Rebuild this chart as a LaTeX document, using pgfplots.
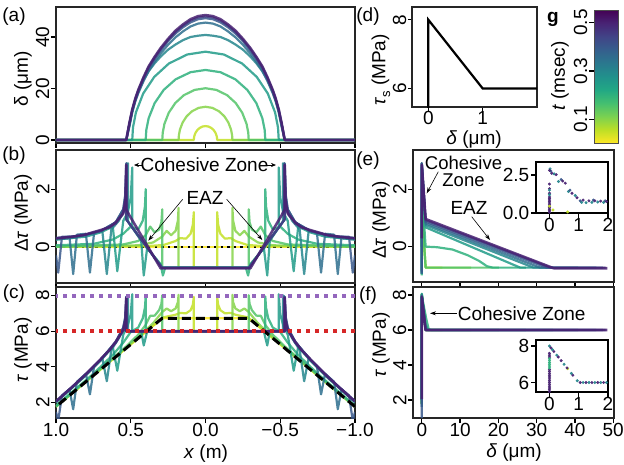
\documentclass[border=0pt]{standalone}
\usepackage{fontspec}
\setmainfont{Liberation Sans}
\usepackage{pgfplots}
\pgfplotsset{compat=1.18}
\usepackage{pgfplotstable}
\usetikzlibrary{arrows.meta}

\newcommand\fs{\fontsize{19}{21}\selectfont}

\definecolor{col0}{RGB}{253,231,37}
\definecolor{col1}{RGB}{195,224,38}
\definecolor{col2}{RGB}{134,212,73}
\definecolor{col3}{RGB}{83,196,104}
\definecolor{col4}{RGB}{46,176,125}
\definecolor{col5}{RGB}{33,155,136}
\definecolor{col6}{RGB}{37,134,141}
\definecolor{col7}{RGB}{46,111,142}
\definecolor{col8}{RGB}{56,88,139}
\definecolor{col9}{RGB}{66,62,132}
\definecolor{col10}{RGB}{72,33,114}
\definecolor{tabpurple}{RGB}{148,103,189}
\definecolor{tabred}{RGB}{214,39,40}

\pgfdeclareverticalshading{vir}{100bp}{rgb(0bp)=(0.992,0.906,0.145); rgb(25bp)=(0.992,0.906,0.145);
 rgb(30bp)=(0.741,0.875,0.149); rgb(35bp)=(0.478,0.820,0.318); rgb(40bp)=(0.267,0.749,0.439);
 rgb(45bp)=(0.133,0.659,0.518); rgb(50bp)=(0.129,0.569,0.549); rgb(55bp)=(0.165,0.471,0.557);
 rgb(60bp)=(0.208,0.373,0.553); rgb(65bp)=(0.255,0.267,0.529); rgb(70bp)=(0.282,0.141,0.459);
 rgb(75bp)=(0.267,0.004,0.329); rgb(100bp)=(0.267,0.004,0.329)}

\pgfplotsset{
  panel/.style={scale only axis, anchor=north west,
    axis line style={line width=1.3pt, black!85},
    tick align=outside, tick pos=left, major tick length=5pt,
    tick style={line width=1.2pt, black},
    tick label style={font=\fs},
    xticklabel style={inner sep=0.5pt}},
  rot/.style={yticklabel style={rotate=90, anchor=south, inner sep=1.5pt}},
  lcol/.style={panel, rot, xmin=-1, xmax=1, x dir=reverse, xtick={-1,-0.5,0,0.5,1}, width=299pt},
  cv/.style={line width=2.2pt, opacity=0.85, line join=round},
  inset/.style={panel, width=72pt, xmin=-0.46, xmax=2, xtick={0,1,2}, xticklabels={0,1,2},
    yticklabel style={anchor=east, inner sep=1.5pt},
    axis line style={line width=1.8pt, black}, axis background/.style={fill=white}},
  dots/.style={only marks, mark=*, mark size=1.3pt, opacity=0.9},
}

% slip profiles, late times (bell shaped), panel (a)
\pgfplotstableread{
x a6 a7 a8 a9 a10
-1 0 0 0 0 0
-0.53 0 0 0 0 0
-0.51 4.9 5.5 6.1 6.2 6.3
-0.49 10.6 11.1 11.5 11.7 11.8
-0.47 15.1 15.0 15.6 15.8 16.0
-0.45 18.4 18.2 18.9 19.2 19.4
-0.415 23.3 22.8 23.7 24.0 24.3
-0.38 26.7 26.9 27.9 28.3 28.6
-0.34 29.8 30.4 31.5 32.0 32.3
-0.3 32.4 33.6 34.8 35.3 35.7
-0.25 35.1 37.0 38.4 38.9 39.3
-0.2 37.1 39.9 41.4 42.0 42.5
-0.15 38.8 42.2 43.8 44.4 44.9
-0.1 40.0 44.1 45.7 46.4 46.9
-0.05 40.5 45.2 46.9 47.6 48.1
0 40.8 45.6 47.3 48.0 48.5
0.05 40.5 45.2 46.9 47.6 48.1
0.1 40.0 44.1 45.7 46.4 46.9
0.15 38.8 42.2 43.8 44.4 44.9
0.2 37.1 39.9 41.4 42.0 42.5
0.25 35.1 37.0 38.4 38.9 39.3
0.3 32.4 33.6 34.8 35.3 35.7
0.34 29.8 30.4 31.5 32.0 32.3
0.38 26.7 26.9 27.9 28.3 28.6
0.415 23.3 22.8 23.7 24.0 24.3
0.45 18.4 18.2 18.9 19.2 19.4
0.47 15.1 15.0 15.6 15.8 16.0
0.49 10.6 11.1 11.5 11.7 11.8
0.51 4.9 5.5 6.1 6.2 6.3
0.53 0 0 0 0 0
1 0 0 0 0 0
}\dtP

% stress change (db) and stress (tc) along the fault, panels (b) and (c)
\pgfplotstableread{
x db tc
-1 0 1.76
-0.29 0 6.73
0.29 0 6.73
1 0 1.76
}\dtZ
\pgfplotstableread{
x db tc
-1 0 1.76
-0.4 0.02 5.98
-0.28 0.06 6.79
-0.2 0.2 6.93
-0.17 0.3 7.03
-0.13 0.28 7.01
-0.1 0.45 7.18
-0.085 0.75 7.48
-0.078 1.2 7.93
-0.078 -0.73 6
0.078 -0.73 6
0.078 1.2 7.93
0.085 0.75 7.48
0.1 0.45 7.18
0.13 0.28 7.01
0.17 0.3 7.03
0.2 0.2 6.93
0.28 0.06 6.79
0.4 0.02 5.98
1 0 1.76
}\dtA
\pgfplotstableread{
x db tc
-1 0 1.76
-0.45 0.05 5.66
-0.35 0.15 6.46
-0.29 0.35 7.08
-0.26 0.55 7.28
-0.23 0.4 7.13
-0.2 0.55 7.28
-0.185 0.9 7.63
-0.18 1.35 8.05
-0.18 -0.73 6
0.18 -0.73 6
0.18 1.35 8.05
0.185 0.9 7.63
0.2 0.55 7.28
0.23 0.4 7.13
0.26 0.55 7.28
0.29 0.35 7.08
0.35 0.15 6.46
0.45 0.05 5.66
1 0 1.76
}\dtB
\pgfplotstableread{
x db tc
-1 0 1.76
-0.55 0.08 4.99
-0.45 0.2 5.81
-0.4 0.4 6.36
-0.37 0.7 6.87
-0.34 0.5 6.88
-0.31 0.6 7.19
-0.295 0.85 7.54
-0.289 1.3 8.03
-0.289 -0.73 6
0.289 -0.73 6
0.289 1.3 8.03
0.295 0.85 7.54
0.31 0.6 7.19
0.34 0.5 6.88
0.37 0.7 6.87
0.4 0.4 6.36
0.45 0.2 5.81
0.55 0.08 4.99
1 0 1.76
}\dtC
\pgfplotstableread{
x db tc
-1 0.05 1.81
-0.75 0.1 3.61
-0.62 0.25 4.67
-0.55 0.45 5.36
-0.5 0.7 5.96
-0.45 0.6 6.21
-0.42 0.9 6.72
-0.405 1.4 7.33
-0.4 2.0 7.96
-0.4 0 5.96
-0.3 -0.6 6
-0.285 -1.0 6
-0.27 -0.73 6
0.27 -0.73 6
0.285 -1.0 6
0.3 -0.6 6
0.4 0 5.96
0.4 2.0 7.96
0.405 1.4 7.33
0.42 0.9 6.72
0.45 0.6 6.21
0.5 0.7 5.96
0.55 0.45 5.36
0.62 0.25 4.67
0.75 0.1 3.61
1 0.05 1.81
}\dtD
\pgfplotstableread{
x db tc
-1 0.25 2.01
-0.8 0.35 3.51
-0.7 0.5 4.36
-0.62 0.7 5.12
-0.59 -0.85 3.78
-0.55 0.9 5.81
-0.52 1.2 6.32
-0.5 1.7 6.96
-0.49 2.75 8.08
-0.49 0.67 6
-0.43 0.2 6
-0.413 -1.0 5.2
-0.39 -0.03 6
-0.29 -0.73 6
0.29 -0.73 6
0.39 -0.03 6
0.413 -1.0 5.2
0.43 0.2 6
0.49 0.67 6
0.49 2.75 8.08
0.5 1.7 6.96
0.52 1.2 6.32
0.55 0.9 5.81
0.59 -0.85 3.78
0.62 0.7 5.12
0.7 0.5 4.36
0.8 0.35 3.51
1 0.25 2.01
}\dtE
\pgfplotstableread{
x db tc
-1 0.25 2.01
-0.9 0.3 2.76
-0.8 0.4 3.56
-0.69 0.55 4.48
-0.66 -0.95 3.19
-0.63 0.6 4.95
-0.58 0.9 5.6
-0.54 1.3 6.28
-0.525 1.8 6.885
-0.518 2.9 8.03
-0.518 0.87 6
-0.29 -0.73 6
0.29 -0.73 6
0.518 0.87 6
0.518 2.9 8.03
0.525 1.8 6.885
0.54 1.3 6.28
0.58 0.9 5.6
0.63 0.6 4.95
0.66 -0.95 3.19
0.69 0.55 4.48
0.8 0.4 3.56
0.9 0.3 2.76
1 0.25 2.01
}\dtF
\pgfplotstableread{
x db tc
-1 0.3 2.06
-0.91 0.35 2.74
-0.885 -0.95 1.615
-0.86 0.42 3.16
-0.8 0.45 3.61
-0.773 -0.9 2.45
-0.745 0.5 4.045
-0.7 0.55 4.41
-0.6 0.85 5.41
-0.55 1.3 6.21
-0.535 1.8 6.815
-0.527 2.9 7.97
-0.527 0.93 6
-0.29 -0.73 6
0.29 -0.73 6
0.527 0.93 6
0.527 2.9 7.97
0.535 1.8 6.815
0.55 1.3 6.21
0.6 0.85 5.41
0.7 0.55 4.41
0.745 0.5 4.045
0.773 -0.9 2.45
0.8 0.45 3.61
0.86 0.42 3.16
0.885 -0.95 1.615
0.91 0.35 2.74
1 0.3 2.06
}\dtG
\pgfplotstableread{
x db tc
-1 -0.3 1.46
-0.985 -0.9 0.965
-0.96 0.35 2.39
-0.9 0.35 2.81
-0.8 0.42 3.58
-0.7 0.55 4.41
-0.6 0.85 5.41
-0.55 1.3 6.21
-0.537 1.8 6.8
-0.53 2.9 7.95
-0.53 0.95 6
-0.29 -0.73 6
0.29 -0.73 6
0.53 0.95 6
0.53 2.9 7.95
0.537 1.8 6.8
0.55 1.3 6.21
0.6 0.85 5.41
0.7 0.55 4.41
0.8 0.42 3.58
0.9 0.35 2.81
0.96 0.35 2.39
0.985 -0.9 0.965
1 -0.3 1.46
}\dtH
\pgfplotstableread{
x db tc
-1 0.3 2.06
-0.9 0.35 2.81
-0.8 0.42 3.58
-0.7 0.55 4.41
-0.6 0.8 5.36
-0.55 1.2 6.11
-0.537 1.6 6.6
-0.53 2.85 7.9
-0.53 0.95 6
-0.29 -0.73 6
0.29 -0.73 6
0.53 0.95 6
0.53 2.85 7.9
0.537 1.6 6.6
0.55 1.2 6.11
0.6 0.8 5.36
0.7 0.55 4.41
0.8 0.42 3.58
0.9 0.35 2.81
1 0.3 2.06
}\dtI
\pgfplotstableread{
x db tc
-1 0.29 2.05
-0.9 0.34 2.80
-0.82 0.4 3.42
-0.7 0.58 4.44
-0.64 0.68 4.96
-0.6 0.85 5.41
-0.55 1.15 6.06
-0.535 1.6 6.62
-0.53 2.84 7.89
-0.53 1.3 6
-0.51 1.1 6
-0.3 -0.75 6
0.3 -0.75 6
0.51 1.1 6
0.53 1.3 6
0.53 2.84 7.89
0.535 1.6 6.62
0.55 1.15 6.06
0.6 0.85 5.41
0.64 0.68 4.96
0.7 0.58 4.44
0.82 0.4 3.42
0.9 0.34 2.80
1 0.29 2.05
}\dtJ

\begin{document}
\begin{tikzpicture}[font=\fs]
\useasboundingbox (0,0) rectangle (624pt,-464pt);

% ---------- (a) slip
\begin{axis}[lcol, at={(56pt,-7pt)}, height=136pt, ymin=-1.17, ymax=51.65,
  ytick={0,20,40}, yticklabels={0,20,40}, xticklabels={}]
\addplot[cv, col1] coordinates {(-1,0)(-0.078,0)(-0.0772,0.76)(-0.0741,1.68)(-0.0663,2.85)(-0.0546,3.86)(-0.039,4.68)(-0.0195,5.23)(0,5.4)(0.0195,5.23)(0.039,4.68)(0.0546,3.86)(0.0663,2.85)(0.0741,1.68)(0.0772,0.76)(0.078,0)(1,0)};
\addplot[cv, col2] coordinates {(-1,0)(-0.18,0)(-0.178,1.82)(-0.171,4.02)(-0.153,6.80)(-0.126,9.21)(-0.09,11.17)(-0.045,12.49)(0,12.9)(0.045,12.49)(0.09,11.17)(0.126,9.21)(0.153,6.80)(0.171,4.02)(0.178,1.82)(0.18,0)(1,0)};
\addplot[cv, col3] coordinates {(-1,0)(-0.289,0)(-0.2861,2.83)(-0.2746,6.27)(-0.2457,10.59)(-0.2023,14.35)(-0.1445,17.41)(-0.0723,19.46)(0,20.1)(0.0723,19.46)(0.1445,17.41)(0.2023,14.35)(0.2457,10.59)(0.2746,6.27)(0.2861,2.83)(0.289,0)(1,0)};
\addplot[cv, col4] coordinates {(-1,0)(-0.4,0)(-0.396,3.84)(-0.38,8.49)(-0.34,14.33)(-0.28,19.42)(-0.2,23.56)(-0.1,26.33)(0,27.2)(0.1,26.33)(0.2,23.56)(0.28,19.42)(0.34,14.33)(0.38,8.49)(0.396,3.84)(0.4,0)(1,0)};
\addplot[cv, col5] coordinates {(-1,0)(-0.49,0)(-0.4851,4.84)(-0.4655,10.70)(-0.4165,18.08)(-0.343,24.49)(-0.245,29.7)(-0.1225,33.2)(0,34.3)(0.1225,33.2)(0.245,29.7)(0.343,24.49)(0.4165,18.08)(0.4655,10.70)(0.4851,4.84)(0.49,0)(1,0)};
\addplot[cv, col6] table[x=x, y=a6] {\dtP};
\addplot[cv, col7] table[x=x, y=a7] {\dtP};
\addplot[cv, col8] table[x=x, y=a8] {\dtP};
\addplot[cv, col9] table[x=x, y=a9] {\dtP};
\addplot[cv, col10, line width=2.6pt] table[x=x, y=a10] {\dtP};
\end{axis}

% ---------- (b) stress change
\begin{axis}[lcol, at={(56pt,-150pt)}, height=133pt, ymin=-1.26, ymax=3.36,
  ytick={0,2}, yticklabels={0,2}, xticklabels={}]
\addplot[cv, col0] table[x=x, y=db] {\dtZ};
\addplot[black, line width=2.4pt, dash pattern=on 2.4pt off 4.2pt] coordinates {(-1,0)(1,0)};
\addplot[cv, col1] table[x=x, y=db] {\dtA};
\addplot[cv, col2] table[x=x, y=db] {\dtB};
\addplot[cv, col3] table[x=x, y=db] {\dtC};
\addplot[cv, col4] table[x=x, y=db] {\dtD};
\addplot[cv, col5] table[x=x, y=db] {\dtE};
\addplot[cv, col6] table[x=x, y=db] {\dtF};
\addplot[cv, col7] table[x=x, y=db] {\dtG};
\addplot[cv, col8] table[x=x, y=db] {\dtH};
\addplot[cv, col9] table[x=x, y=db] {\dtI};
\addplot[cv, col10, line width=2.6pt] table[x=x, y=db] {\dtJ};
\end{axis}

% ---------- (c) stress
\begin{axis}[lcol, at={(56pt,-287pt)}, height=131pt, ymin=1.12, ymax=8.49,
  ytick={2,4,6,8}, yticklabels={2,4,6,8}, xticklabels={−1.0,−0.5,0.0,0.5,1.0}]
\addplot[cv, col0] table[x=x, y=tc] {\dtZ};
\addplot[cv, col1] table[x=x, y=tc] {\dtA};
\addplot[cv, col2] table[x=x, y=tc] {\dtB};
\addplot[cv, col3] table[x=x, y=tc] {\dtC};
\addplot[cv, col4] table[x=x, y=tc] {\dtD};
\addplot[cv, col5] table[x=x, y=tc] {\dtE};
\addplot[cv, col6] table[x=x, y=tc] {\dtF};
\addplot[cv, col7] table[x=x, y=tc] {\dtG};
\addplot[cv, col8] table[x=x, y=tc] {\dtH};
\addplot[cv, col9] table[x=x, y=tc] {\dtI};
\addplot[cv, col10, line width=2.6pt] table[x=x, y=tc] {\dtJ};
\addplot[black, line width=3pt, dash pattern=on 9pt off 5pt] coordinates {(-1,1.76)(-0.29,6.73)(0.29,6.73)(1,1.76)};
\addplot[tabpurple, line width=4pt, dash pattern=on 4pt off 5pt] coordinates {(-1,8)(1,8)};
\addplot[tabred, line width=4pt, dash pattern=on 4pt off 5pt] coordinates {(-1,6)(1,6)};
\end{axis}

% ---------- (d) friction law
\begin{axis}[panel, rot, at={(412pt,-7pt)}, width=125pt, height=100pt, xmin=-0.3, xmax=2,
  ymin=5.46, ymax=8.37, xtick={0,1}, xticklabels={0,1}, ytick={6,8}, yticklabels={6,8},
  major tick length=4pt, xticklabel style={inner sep=0pt}]
\addplot[black, line width=2.2pt] coordinates {(0,5.3)(0,8)(1,6)(2.1,6)};
\end{axis}

% ---------- colour bar (g)
\shade[shading=vir] (594pt,-143pt) rectangle (618pt,-10pt);
\begin{axis}[panel, rot, at={(594pt,-10pt)}, width=24pt, height=133pt, xmin=0, xmax=1,
  ymin=0.003, ymax=0.552, xtick=\empty, ytick={0.1,0.3,0.5}, yticklabels={0.1,0.3,0.5},
  axis line style={line width=0.8pt, black!70}]
\end{axis}

% ---------- (e) stress change vs slip
\begin{axis}[panel, rot, at={(413pt,-150pt)}, width=201pt, height=132pt, xmin=-2.3, xmax=50.2,
  ymin=-1.23, ymax=3.36, xtick={0,10,20,30,40,50}, xticklabels={}, ytick={0,2}, yticklabels={0,2}]
\addplot[cv, col1] coordinates {(0,0)(0,1.2)(1,-0.73)(5.4,-0.73)};
\addplot[cv, col2] coordinates {(0,0)(0,1.35)(1,-0.73)(12.9,-0.73)};
\addplot[cv, col3] coordinates {(0,0)(0,1.3)(1,-0.73)(20.1,-0.73)};
\addplot[cv, col4] coordinates {(0,-1.0)(0,2.0)(1,0.0)(4,-0.02)(8,-0.1)(12,-0.3)(15,-0.5)(17,-0.68)(18.5,-0.73)(27.2,-0.73)};
\addplot[cv, col5] coordinates {(0,-0.85)(0,2.75)(1,0.67)(25.7,-0.73)(34.3,-0.73)};
\addplot[cv, col6] coordinates {(0,-0.95)(0,2.9)(1,0.75)(29.2,-0.73)(40.8,-0.73)};
\addplot[cv, col7] coordinates {(0,-0.95)(0,2.9)(1,0.81)(30.9,-0.73)(45.6,-0.73)};
\addplot[cv, col8] coordinates {(0,-0.9)(0,2.9)(1,0.87)(32.6,-0.73)(47.3,-0.73)};
\addplot[cv, col9] coordinates {(0,0.3)(0,2.85)(1,0.92)(33.6,-0.73)(48.0,-0.73)};
\addplot[cv, col10, line width=2.6pt] coordinates {(0,0.29)(0,2.84)(1,0.96)(34.4,-0.75)(48.5,-0.75)};
\end{axis}

% ---------- (f) stress vs slip
\begin{axis}[panel, rot, at={(413pt,-287pt)}, width=201pt, height=131pt, xmin=-2.3, xmax=50.2,
  ymin=0.97, ymax=8.46, xtick={0,10,20,30,40,50}, xticklabels={0,10,20,30,40,50},
  ytick={2,4,6,8}, yticklabels={2,4,6,8}]
\addplot[cv, col1] coordinates {(0,1.76)(0,7.93)(1,6)(5.4,6)};
\addplot[cv, col2] coordinates {(0,1.76)(0,8.05)(1,6)(12.9,6)};
\addplot[cv, col3] coordinates {(0,1.76)(0,8.03)(1,6)(20.1,6)};
\addplot[cv, col4] coordinates {(0,1.81)(0,7.96)(1.2,6.6)(1.8,6.05)(2.5,6)(27.2,6)};
\addplot[cv, col5] coordinates {(0,2.0)(0,8.08)(1,6.3)(1.6,6)(34.3,6)};
\addplot[cv, col6] coordinates {(0,2.0)(0,8.03)(1,6)(40.8,6)};
\addplot[cv, col7] coordinates {(0,1.6)(0,7.97)(1,6)(45.6,6)};
\addplot[cv, col8] coordinates {(0,0.97)(0,7.95)(1,6)(47.3,6)};
\addplot[cv, col9] coordinates {(0,2.06)(0,7.9)(1,6)(48,6)};
\addplot[cv, col10, line width=2.6pt] coordinates {(0,2.05)(0,7.89)(1,6)(48.5,6)};
\end{axis}

% ---------- inset of (e)
\begin{axis}[inset, at={(536pt,-162pt)}, height=51pt, ymin=0, ymax=3.35,
  ytick={0,2.5}, yticklabels={0.0,2.5}]
\addplot[dots, col10] coordinates {(0,0.05)(0,0.15)(0,0.25)(0,0.35)(0,0.45)(0,0.55)(0,0.65)(0,0.75)(0,0.85)(0,0.95)(0,1.05)(0,1.3)(0,1.6)(0,1.9)};
\addplot[dots, col1] coordinates {(0,0.45)(0.12,0.2)(0.62,0.07)};
\addplot[dots, col6] coordinates {(0.02,2.9)(0.16,2.57)(0.31,2.07)(0.65,1.41)(0.88,1.15)(1.1,0.7)(1.25,0.68)(1.45,0.7)(1.65,0.72)(1.85,0.7)(0,1.2)(0,1.5)};
\addplot[dots, col8] coordinates {(0.05,2.75)(0.4,2.2)(0.7,1.5)(1.05,0.8)(1.5,0.85)(1.9,0.8)};
\addplot[dots, col10] coordinates {(0,2.8)(0.08,2.61)(0.23,2.52)(0.45,2.1)(0.54,1.96)(0.77,1.3)(0.94,1.0)(1.15,0.85)(1.35,0.8)(1.55,0.8)(1.75,0.78)(1.95,0.75)};
\end{axis}

% ---------- inset of (f)
\begin{axis}[inset, at={(536pt,-340pt)}, height=52pt, ymin=5.48, ymax=8.33,
  ytick={6,8}, yticklabels={6,8}]
\addplot[dots, col10] coordinates {(0,5.5)(0,5.6)(0,5.7)(0,5.8)(0,5.9)(0,6.0)(0,6.1)(0,6.2)(0,6.3)(0,6.4)(0,6.5)(0,6.6)(0,6.7)(0,7.4)(0,7.5)(0,7.6)};
\addplot[dots, col4] coordinates {(0,6.8)(0,6.9)(0,7.0)(0,7.1)(0,7.2)(0,7.3)};
\addplot[dots, col6] coordinates {(0,8)(0.1,7.8)(0.25,7.5)(0.5,7.0)(0.75,6.5)(0.95,6.1)(1.15,6)(1.35,6)(1.55,6)(1.75,6)(1.95,6)};
\addplot[dots, col1] coordinates {(0.62,6.76)};
\addplot[dots, col10] coordinates {(0.05,7.9)(0.15,7.7)(0.3,7.4)(0.4,7.2)(0.6,6.8)(0.8,6.4)(1.05,6)(1.25,6)(1.45,6)(1.65,6)(1.85,6)};
\end{axis}

% ---------- panel letters and axis labels
\node at (14pt,-17pt) {(a)};
\node at (14pt,-156pt) {(b)};
\node at (14pt,-294pt) {(c)};
\node at (368pt,-17pt) {(d)};
\node at (368pt,-161pt) {(e)};
\node at (368pt,-296pt) {(f)};
\node[font=\fs\bfseries] at (553pt,-19pt) {g};

\node[rotate=90] at (23pt,-79pt) {δ (μm)};
\node[rotate=90] at (23pt,-213pt) {Δ\textit{τ} (MPa)};
\node[rotate=90] at (23pt,-350pt) {\textit{τ} (MPa)};
\node at (206pt,-454pt) {\textit{x} (m)};
\node[rotate=90] at (381pt,-70pt) {\textit{τ}\raisebox{-0.25em}{\fontsize{13}{14}\selectfont s} (MPa)};
\node[inner sep=0pt] at (474pt,-140pt) {\textit{δ} (μm)};
\node[rotate=90] at (560pt,-76pt) {\textit{t} (msec)};
\node[rotate=90] at (381pt,-220pt) {Δ\textit{τ} (MPa)};
\node[rotate=90] at (381pt,-345pt) {\textit{τ} (MPa)};
\node at (514pt,-453pt) {\textit{δ} (μm)};

% ---------- annotations
\node at (204.5pt,-165pt) {Cohesive Zone};
\draw[line width=0.6pt, -{Stealth[length=5pt,width=4pt]}] (143pt,-165pt) -- (134pt,-165pt);
\draw[line width=0.6pt, -{Stealth[length=5pt,width=4pt]}] (267pt,-165pt) -- (276pt,-165pt);
\node at (205pt,-197.5pt) {EAZ};
\draw[line width=0.6pt, -{Stealth[length=6pt,width=4pt]}] (182.7pt,-199.3pt) -- (148.3pt,-240.7pt);
\draw[line width=0.6pt, -{Stealth[length=6pt,width=4pt]}] (226.7pt,-199.3pt) -- (262.3pt,-240pt);

\node[align=center, font=\fontsize{18.5}{17}\selectfont] at (463.5pt,-171pt) {Cohesive\\Zone};
\draw[line width=0.6pt, -{Stealth[length=6pt,width=4pt]}] (438.3pt,-171.7pt) -- (426.7pt,-193.3pt);
\node at (469pt,-207.5pt) {EAZ};
\draw[line width=0.6pt, -{Stealth[length=6pt,width=4pt]}] (471.7pt,-216.7pt) -- (490pt,-240pt);

\node at (521.7pt,-313.3pt) {Cohesive Zone};
\draw[line width=0.6pt, -{Stealth[length=6pt,width=4pt]}] (456.7pt,-313.3pt) -- (430pt,-313.3pt);
\end{tikzpicture}
\end{document}
